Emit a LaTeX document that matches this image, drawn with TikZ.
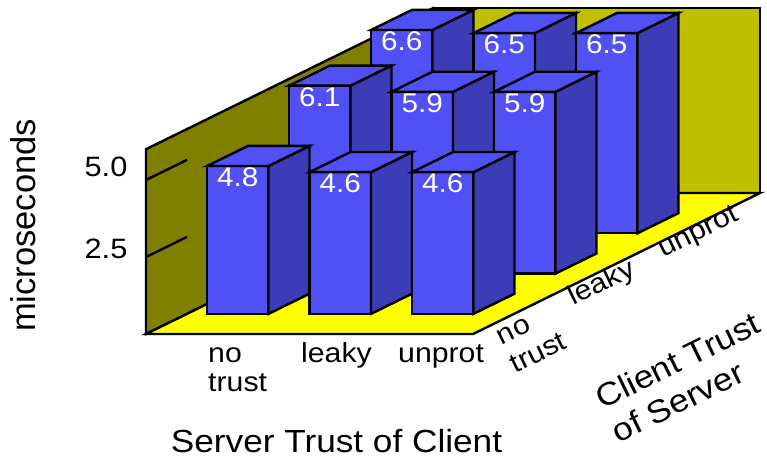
\documentclass[tikz,border=0pt]{standalone}
\usepackage{fontspec}
\setmainfont{Liberation Sans}[FakeStretch=1.1]
\newfontfamily\plainsans{Liberation Sans}
\definecolor{barfront}{RGB}{80,80,245}
\definecolor{barside}{RGB}{60,60,182}
\definecolor{leftwall}{RGB}{128,128,0}
\definecolor{backwall}{RGB}{192,192,0}
\definecolor{floorcol}{RGB}{255,255,0}
\newcommand\mybar[5]{% c0, d0, height, label, name
  \filldraw[outline,fill=barfront] (#1,0,#2) -- (#1+61.5,0,#2) -- (#1+61.5,#3,#2) -- (#1,#3,#2) -- cycle;
  \filldraw[outline,fill=barside] (#1+61.5,0,#2) -- (#1+61.5,0,#2+41) -- (#1+61.5,#3,#2+41) -- (#1+61.5,#3,#2) -- cycle;
  \filldraw[outline,fill=barfront] (#1,#3,#2) -- (#1+61.5,#3,#2) -- (#1+61.5,#3,#2+41) -- (#1,#3,#2+41) -- cycle;
  \node[barlab] (#5) at (#1+30.75,#3,#2) {#4};
}
\newcommand\twolines[2]{\begin{tabular}[t]{@{}l@{}}#1\\#2\end{tabular}}
\begin{document}
\begin{tikzpicture}[x=1pt,y=-1pt,
  outline/.style={draw=black,line width=2.4pt},
  barlab/.style={text=white,font=\fontsize{27}{29}\selectfont,inner sep=0pt,anchor=center,yshift=-11.5pt},
  lab/.style={font=\fontsize{27.5}{29}\selectfont,inner sep=0pt},
  ticklab/.style={font=\fontsize{28}{30}\selectfont,inner sep=0pt,anchor=center},
  title/.style={font=\fontsize{32}{37}\selectfont,inner sep=0pt},
  ytitlestyle/.style={font=\plainsans\fontsize{34.5}{37}\selectfont,inner sep=0pt,anchor=center,rotate=90}]
\useasboundingbox (0,0) rectangle (767,459);
\begin{scope}[shift={(146,334)},x={(1pt,0pt)},y={(0pt,30.8pt)},z={(1pt,0.4913pt)}]
  \filldraw[outline,fill=backwall] (0,0,287) -- (0,6,287) -- (327,6,287) -- (327,0,287) -- cycle;
  \filldraw[outline,fill=leftwall] (0,0,0) -- (0,6,0) -- (0,6,287) -- (0,0,287) -- cycle;
  \filldraw[outline,fill=floorcol] (0,0,0) -- (327,0,0) -- (327,0,287) -- (0,0,287) -- cycle;
  \draw[outline] (0,5,0) -- (0,5,41);
  \draw[outline] (0,2.5,0) -- (0,2.5,41);
  \mybar{20}{205}{6.6}{6.6}{b31}
  \mybar{122.5}{205}{6.5}{6.5}{b32}
  \mybar{225}{205}{6.5}{6.5}{b33}
  \mybar{20}{123}{6.1}{6.1}{b21}
  \mybar{122.5}{123}{5.9}{5.9}{b22}
  \mybar{225}{123}{5.9}{5.9}{b23}
  \mybar{20}{41}{4.8}{4.8}{b11}
  \mybar{122.5}{41}{4.6}{4.6}{b12}
  \mybar{225}{41}{4.6}{4.6}{b13}
\end{scope}
\node[ytitlestyle] (ytitle) at (23.5,225.5) {microseconds};
\node[ticklab] (t50) at (106,167) {5.0};
\node[ticklab] (t25) at (106,249) {2.5};
\node[lab,anchor=base west] (sx1) at (208,362) {\twolines{no}{trust}};
\node[lab,anchor=base west] (sx2) at (301,362) {leaky};
\node[lab,anchor=base west] (sx3) at (398,362) {unprot};
\node[title,anchor=base] (xtitle) at (336.5,452) {Server Trust of Client};
\node[lab,font=\fontsize{27.5}{31}\selectfont,anchor=base west,rotate=26] (cy1) at (501.7,345.4) {\twolines{no}{trust}};
\node[lab,anchor=base west,rotate=26] (cy2) at (573,306) {leaky};
\node[lab,anchor=base west,rotate=26] (cy3) at (663,257.5) {unprot};
\node[title,anchor=base west,rotate=26] (ztitle) at (602,410) {\twolines{Client Trust}{of Server}};
\end{tikzpicture}
\end{document}
